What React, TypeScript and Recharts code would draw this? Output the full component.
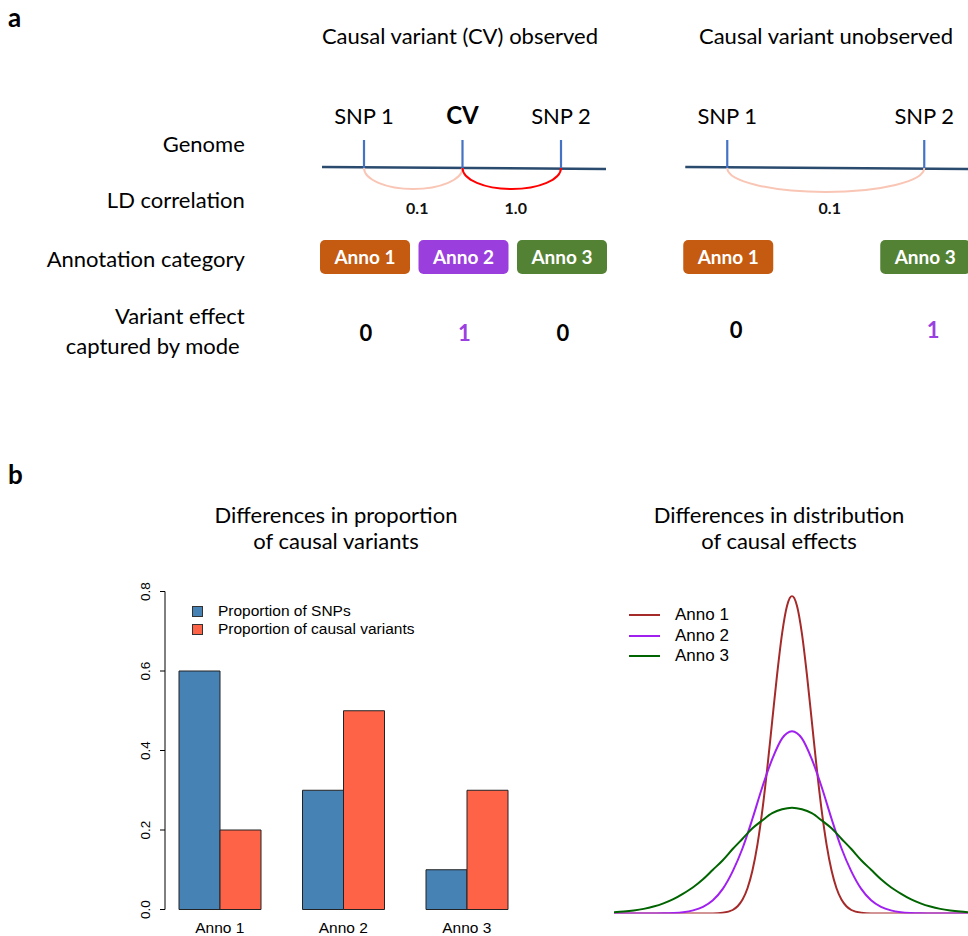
import React from "react";
import { ScatterChart, Scatter, XAxis, YAxis, BarChart, Bar, LineChart, Line, Legend } from "recharts";

const DIAGRAM_FONT = "Lato, 'Open Sans', sans-serif";
const R_FONT = "'Liberation Sans', Arial, Helvetica, sans-serif";

// ---------- Panel a: diagram data ----------
const observedSnpNames = ["SNP 1", "CV", "SNP 2"];
const observedSnpPositions = [1, 2, 3];
const observedAnnotations = ["Anno 1", "Anno 2", "Anno 3"];
const observedEffects = [0, 1, 0];
const observedLdFrom = [1, 2];
const observedLdTo = [2, 3];
const observedLdValues = [0.1, 1.0];

const unobservedSnpNames = ["SNP 1", "SNP 2"];
const unobservedSnpPositions = [1, 3];
const unobservedAnnotations = ["Anno 1", "Anno 3"];
const unobservedEffects = [0, 1];
const unobservedLdFrom = [1];
const unobservedLdTo = [3];
const unobservedLdValues = [0.1];

const genomeExtent = [0.574, 3.457];
const rowLabels = ["Genome", "LD correlation", "Annotation category", "Variant effect\ncaptured by mode"];

// ---------- Panel b: bar data ----------
const barCategories = ["Anno 1", "Anno 2", "Anno 3"];
const proportionSnps = [0.6, 0.3, 0.1];
const proportionCausal = [0.2, 0.5, 0.3];
const barTicks = [0, 0.2, 0.4, 0.6, 0.8];

// ---------- Panel b: effect distributions ----------
const anno1X = [-9, -8, -7, -6, -5, -4, -3.5, -3, -2.75, -2.5, -2.25, -2, -1.75, -1.5, -1.25, -1, -0.75, -0.5, -0.25, 0,
  0.25, 0.5, 0.75, 1, 1.25, 1.5, 1.75, 2, 2.25, 2.5, 2.75, 3, 3.5, 4, 5, 6, 7, 8, 9];
const anno1Y = [0, 0, 0, 0, 0, 0.0001, 0.0009, 0.0044, 0.0091, 0.0175, 0.0317, 0.054, 0.0863, 0.1295, 0.1826, 0.242, 0.3011, 0.3521, 0.3867, 0.3989,
  0.3867, 0.3521, 0.3011, 0.242, 0.1826, 0.1295, 0.0863, 0.054, 0.0317, 0.0175, 0.0091, 0.0044, 0.0009, 0.0001, 0, 0, 0, 0, 0];
const wideX = [-9, -8.5, -8, -7.5, -7, -6.5, -6, -5.5, -5, -4.5, -4, -3.5, -3, -2.5, -2, -1.5, -1, -0.5, 0,
  0.5, 1, 1.5, 2, 2.5, 3, 3.5, 4, 4.5, 5, 5.5, 6, 6.5, 7, 7.5, 8, 8.5, 9];
const anno2Y = [0, 0, 0, 0, 0.0001, 0.0002, 0.0006, 0.0016, 0.0039, 0.0084, 0.0167, 0.031, 0.053, 0.082, 0.119, 0.159, 0.194, 0.22, 0.229,
  0.22, 0.194, 0.159, 0.119, 0.082, 0.053, 0.031, 0.0167, 0.0084, 0.0039, 0.0016, 0.0006, 0.0002, 0.0001, 0, 0, 0, 0];
const anno3Y = [0.0015, 0.0024, 0.0038, 0.0058, 0.0087, 0.0127, 0.018, 0.025, 0.033, 0.043, 0.055, 0.067, 0.081, 0.094, 0.107, 0.117, 0.126, 0.131, 0.133,
  0.131, 0.126, 0.117, 0.107, 0.094, 0.081, 0.067, 0.055, 0.043, 0.033, 0.025, 0.018, 0.0127, 0.0087, 0.0058, 0.0038, 0.0024, 0.0015];
const densityNames = ["Anno 1", "Anno 2", "Anno 3"];

// ---------- styles / layout ----------
const ANNO_COLORS: Record<string, string> = { "Anno 1": "#C55A11", "Anno 2": "#9A3FDD", "Anno 3": "#548235" };
const DENSITY_COLORS = ["#A52A2A", "#A020F0", "#006400"];
const A_HEIGHT = 370;
const POS_DOMAIN: [number, number] = [0.5, 3.5];
const GENOME_Y = 168;
const ANNO_Y = 257;
const ROW_LABEL_Y = [144, 200, 259, 331];
const PLOT_W = 295.5;

const Empty = () => <g />;

function SnpMark(props: any) {
  const { cx, cy, payload } = props;
  const isCv = payload.name === "CV";
  return (
    <g>
      <line x1={cx} x2={cx} y1={cy} y2={cy - 28} stroke="#4472C4" strokeWidth={2.2} />
      <text x={cx} y={cy - 44} textAnchor="middle" fontFamily={DIAGRAM_FONT} fontSize={isCv ? 24 : 22}
        fontWeight={isCv ? 700 : 400} fill="#000">{payload.name}</text>
    </g>
  );
}

function AnnoBox(props: any) {
  const { cx, cy, payload } = props;
  return (
    <g>
      <rect x={cx - 44} y={cy - 17} width={90} height={34} rx={5} ry={5} fill={ANNO_COLORS[payload.name]} />
      <text x={cx + 1} y={cy + 7} textAnchor="middle" fontFamily={DIAGRAM_FONT} fontSize={19} fontWeight={700} fill="#fff">
        {payload.name}
      </text>
    </g>
  );
}

function makeEffectMark(dx: number) {
  return (props: any) => {
    const { cx, cy, payload } = props;
    return (
      <text x={cx + dx} y={cy + 8} textAnchor="middle" fontFamily={DIAGRAM_FONT} fontSize={22} fontWeight={700}
        fill={payload.value === 1 ? "#9B40E0" : "#000"}>{payload.value}</text>
    );
  };
}

function makeLdArc(value: number) {
  return (props: any) => {
    const pts = props.points;
    if (!pts || pts.length < 2) return <g />;
    const p1 = pts[0];
    const p2 = pts[1];
    const rx = (p2.x - p1.x) / 2;
    const ry = rx > 60 ? 24 : 21;
    const color = value >= 0.5 ? "#FF0000" : "#F9C5B4";
    return (
      <g>
        <path d={`M ${p1.x} ${p1.y} A ${rx} ${ry} 0 0 0 ${p2.x} ${p2.y}`} fill="none" stroke={color} strokeWidth={2} />
        <text x={(p1.x + p2.x) / 2 + 4} y={p1.y + 46} textAnchor="middle" fontFamily={DIAGRAM_FONT} fontSize={16}
          fontWeight={700} fill="#111">{value.toFixed(1)}</text>
      </g>
    );
  };
}

function RowTick(props: any) {
  const { x, y, payload } = props;
  const idx = ROW_LABEL_Y.indexOf(payload.value);
  if (idx < 0) return <g />;
  const lines = rowLabels[idx].split("\n");
  if (lines.length === 1) {
    return (
      <text x={x} y={y} dy="0.35em" textAnchor="end" fontFamily={DIAGRAM_FONT} fontSize={22} fill="#000">{lines[0]}</text>
    );
  }
  return (
    <g>
      <text x={x} y={y - 15} dy="0.35em" textAnchor="end" fontFamily={DIAGRAM_FONT} fontSize={22} fill="#000">{lines[0]}</text>
      <text x={x - 5} y={y + 15} dy="0.35em" textAnchor="end" fontFamily={DIAGRAM_FONT} fontSize={22} fill="#000">{lines[1]}</text>
    </g>
  );
}

function Diagram(props: any) {
  const { left, plotLeft, names, positions, annos, effects, ldFrom, ldTo, ldValues, effectY, effectDx, showRowLabels } = props;
  const genomeData = [
    { x: genomeExtent[0], y: GENOME_Y - 1 },
    { x: genomeExtent[1], y: GENOME_Y + 1 },
  ];
  const snpData = names.map((n: string, i: number) => ({ x: positions[i], y: GENOME_Y, name: n }));
  const annoData = annos.map((a: string, i: number) => ({ x: positions[i], y: ANNO_Y, name: a }));
  const effectData = effects.map((e: number, i: number) => ({ x: positions[i], y: effectY, value: e }));
  return (
    <div style={{ position: "absolute", left, top: 0 }}>
      <ScatterChart width={plotLeft + PLOT_W} height={A_HEIGHT} margin={{ top: 0, right: 0, bottom: 0, left: 0 }}>
        <XAxis type="number" dataKey="x" domain={POS_DOMAIN} hide allowDataOverflow />
        {showRowLabels ? (
          <YAxis type="number" dataKey="y" domain={[0, A_HEIGHT]} reversed width={plotLeft} ticks={ROW_LABEL_Y}
            interval={0} tick={<RowTick />} axisLine={false} tickLine={false} tickSize={0} tickMargin={70}
            allowDataOverflow />
        ) : (
          <YAxis type="number" dataKey="y" domain={[0, A_HEIGHT]} reversed hide allowDataOverflow />
        )}
        <Scatter data={genomeData} shape={Empty} line={{ stroke: "#2A4A6E", strokeWidth: 2.6 }} isAnimationActive={false} />
        {ldFrom.map((f: number, i: number) => (
          <Scatter key={"ld" + i} data={[{ x: f, y: GENOME_Y }, { x: ldTo[i], y: GENOME_Y }]} shape={Empty}
            line={makeLdArc(ldValues[i])} isAnimationActive={false} />
        ))}
        <Scatter data={snpData} shape={SnpMark} isAnimationActive={false} />
        <Scatter data={annoData} shape={AnnoBox} isAnimationActive={false} />
        <Scatter data={effectData} shape={makeEffectMark(effectDx)} isAnimationActive={false} />
      </ScatterChart>
    </div>
  );
}

function RotTick(props: any) {
  const { x, y, payload } = props;
  return (
    <text x={x} y={y} transform={`rotate(-90 ${x} ${y})`} textAnchor="middle" fontFamily={R_FONT} fontSize={13.5} fill="#000">
      {Number(payload.value).toFixed(1)}
    </text>
  );
}

function BarLegend(props: any) {
  const { payload } = props;
  return (
    <div style={{ fontFamily: R_FONT, fontSize: 15.5, color: "#000" }}>
      {(payload || []).map((p: any, i: number) => (
        <div key={i} style={{ display: "flex", alignItems: "center", height: 18, whiteSpace: "nowrap" }}>
          <span style={{ display: "inline-block", width: 9, height: 9, background: p.color, border: "1px solid #333", marginRight: 15 }} />
          <span>{p.value}</span>
        </div>
      ))}
    </div>
  );
}

function LineLegend(props: any) {
  const { payload } = props;
  return (
    <div style={{ fontFamily: R_FONT, fontSize: 17, color: "#000" }}>
      {(payload || []).map((p: any, i: number) => (
        <div key={i} style={{ display: "flex", alignItems: "center", height: 20.5, whiteSpace: "nowrap" }}>
          <span style={{ display: "inline-block", width: 31, height: 0, borderTop: `2px solid ${p.color}`, marginRight: 15 }} />
          <span>{p.value}</span>
        </div>
      ))}
    </div>
  );
}

export default function App() {
  const barData = barCategories.map((c, i) => ({ category: c, snps: proportionSnps[i], causal: proportionCausal[i] }));
  const densitySeries = [
    anno1X.map((x, i) => ({ x, y: anno1Y[i] })),
    wideX.map((x, i) => ({ x, y: anno2Y[i] })),
    wideX.map((x, i) => ({ x, y: anno3Y[i] })),
  ];
  return (
    <div style={{ position: "absolute", left: 0, top: 0, width: 968, height: 936, overflow: "hidden", background: "#fff" }}>
      <svg width={968} height={936} style={{ position: "absolute", left: 0, top: 0 }}>
        <text x={8} y={27} fontFamily={DIAGRAM_FONT} fontWeight={700} fontSize={26} fill="#000">a</text>
        <text x={460} y={44} textAnchor="middle" fontFamily={DIAGRAM_FONT} fontSize={22} fill="#000">Causal variant (CV) observed</text>
        <text x={826} y={44} textAnchor="middle" fontFamily={DIAGRAM_FONT} fontSize={22} fill="#000">Causal variant unobserved</text>
        <text x={8} y={484} fontFamily={DIAGRAM_FONT} fontWeight={700} fontSize={26} fill="#000">b</text>
        <text x={336} y={523} textAnchor="middle" fontFamily={DIAGRAM_FONT} fontSize={22} fill="#000">Differences in proportion</text>
        <text x={336} y={549} textAnchor="middle" fontFamily={DIAGRAM_FONT} fontSize={22} fill="#000">of causal variants</text>
        <text x={779} y={523} textAnchor="middle" fontFamily={DIAGRAM_FONT} fontSize={22} fill="#000">Differences in distribution</text>
        <text x={779} y={549} textAnchor="middle" fontFamily={DIAGRAM_FONT} fontSize={22} fill="#000">of causal effects</text>
      </svg>

      <Diagram left={0} plotLeft={314.75} names={observedSnpNames} positions={observedSnpPositions}
        annos={observedAnnotations} effects={observedEffects} ldFrom={observedLdFrom} ldTo={observedLdTo}
        ldValues={observedLdValues} effectY={333} effectDx={2} showRowLabels />
      <Diagram left={677.75} plotLeft={0} names={unobservedSnpNames} positions={unobservedSnpPositions}
        annos={unobservedAnnotations} effects={unobservedEffects} ldFrom={unobservedLdFrom} ldTo={unobservedLdTo}
        ldValues={unobservedLdValues} effectY={330} effectDx={9} showRowLabels={false} />

      {/* bar chart */}
      <div style={{ position: "absolute", left: 100, top: 560 }}>
        <BarChart width={440} height={376} data={barData} margin={{ top: 31.5, right: 11.5, bottom: 0, left: 58 }}
          barGap={0} barSize={41}>
          <XAxis dataKey="category" height={26.5} axisLine={false} tickLine={false} tickSize={0} tickMargin={12}
            interval={0} tick={{ fontSize: 15.5, fill: "#000", fontFamily: R_FONT }} />
          <YAxis type="number" domain={[0, 0.8]} hide />
          <Legend layout="horizontal" verticalAlign="middle" align="center" content={<BarLegend />}
            wrapperStyle={{ left: 92, top: 42, width: 320 }} />
          <Bar dataKey="snps" name="Proportion of SNPs" fill="#4682B4" stroke="#222" strokeWidth={1} isAnimationActive={false} />
          <Bar dataKey="causal" name="Proportion of causal variants" fill="#FF6347" stroke="#222" strokeWidth={1} isAnimationActive={false} />
        </BarChart>
      </div>
      {/* y axis of bar chart (R draws it slightly inside the first bar group's band) */}
      <div style={{ position: "absolute", left: 100, top: 560 }}>
        <BarChart width={440} height={376} data={barData} margin={{ top: 31.5, right: 11.5, bottom: 26.5, left: 0 }}>
          <XAxis dataKey="category" hide />
          <YAxis type="number" domain={[0, 0.8]} ticks={barTicks} interval={0} width={65}
            axisLine={{ stroke: "#000", strokeWidth: 1 }} tickLine={{ stroke: "#000", strokeWidth: 1 }}
            tickSize={5} tickMargin={10} tick={<RotTick />} />
          <Bar dataKey="snps" fill="none" stroke="none" isAnimationActive={false} />
        </BarChart>
      </div>

      {/* density chart */}
      <div style={{ position: "absolute", left: 590, top: 560 }}>
        <LineChart width={400} height={376} margin={{ top: 35.2, right: 20, bottom: 22.5, left: 24 }}>
          <XAxis type="number" dataKey="x" domain={[-9, 9]} hide allowDataOverflow />
          <YAxis type="number" dataKey="y" domain={[0, 0.4]} hide allowDataOverflow />
          <Legend layout="horizontal" verticalAlign="middle" align="center" content={<LineLegend />}
            wrapperStyle={{ left: 39, top: 44.75, width: 130 }} />
          {densitySeries.map((d, i) => (
            <Line key={densityNames[i]} data={d} dataKey="y" name={densityNames[i]} type="monotone" dot={false}
              stroke={DENSITY_COLORS[i]} strokeWidth={2} isAnimationActive={false} />
          ))}
        </LineChart>
      </div>
    </div>
  );
}
